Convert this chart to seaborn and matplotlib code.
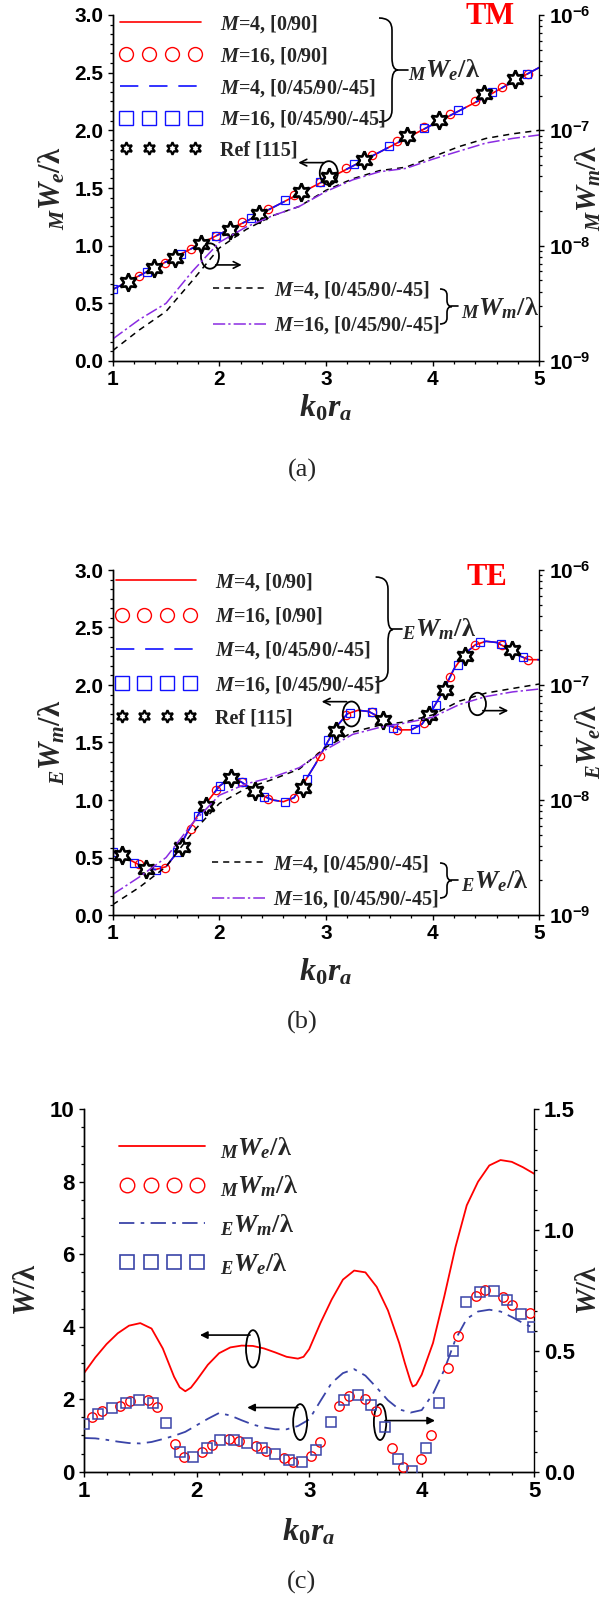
import numpy as np
import matplotlib
matplotlib.use("Agg")
import matplotlib.pyplot as plt
import seaborn as sns
from matplotlib.lines import Line2D
from matplotlib.patches import Ellipse, PathPatch
from matplotlib.path import Path
from matplotlib.ticker import AutoMinorLocator, FuncFormatter, NullFormatter, MultipleLocator, FormatStrFormatter
from matplotlib.legend_handler import HandlerLine2D

# ---------------- data: panel (a) TM ----------------
tm_x_line = [1.0, 1.25, 1.5, 1.75, 2.0, 2.25, 2.5, 2.75, 3.0, 3.25, 3.5, 3.75, 4.0, 4.25, 4.5, 4.75, 5.0]
tm_we_m4_090 = [0.62, 0.74, 0.86, 0.98, 1.10, 1.21, 1.33, 1.45, 1.57, 1.69, 1.81, 1.93, 2.05, 2.17, 2.29, 2.42, 2.545]
tm_we_m4_quasi = [0.62, 0.74, 0.86, 0.98, 1.10, 1.21, 1.33, 1.45, 1.57, 1.69, 1.81, 1.93, 2.05, 2.17, 2.29, 2.42, 2.545]
tm_m16_090_x = [1.243, 1.486, 1.73, 1.97, 2.215, 2.46, 2.70, 2.94, 3.19, 3.43, 3.67, 3.92, 4.16, 4.40, 4.65, 4.89]
tm_m16_090_y = [0.737, 0.853, 0.97, 1.086, 1.205, 1.32, 1.44, 1.555, 1.675, 1.79, 1.905, 2.025, 2.14, 2.255, 2.375, 2.49]
tm_m16_quasi_x = [1.0, 1.32, 1.645, 1.97, 2.295, 2.615, 2.94, 3.265, 3.59, 3.915, 4.24, 4.56, 4.885]
tm_m16_quasi_y = [0.62, 0.773, 0.93, 1.085, 1.24, 1.395, 1.555, 1.71, 1.865, 2.02, 2.175, 2.33, 2.485]
tm_ref_x = [1.144, 1.386, 1.585, 1.827, 2.098, 2.373, 2.77, 3.03, 3.356, 3.764, 4.06, 4.486, 4.776]
tm_ref_y = [0.689, 0.81, 0.897, 1.014, 1.138, 1.274, 1.466, 1.593, 1.746, 1.949, 2.088, 2.311, 2.447]
tm_wm_m4 = [1.23e-9, 1.86e-9, 2.69e-9, 5.01e-9, 9.55e-9, 1.38e-8, 1.82e-8, 2.19e-8, 3.02e-8,
            3.80e-8, 4.47e-8, 4.79e-8, 5.89e-8, 7.24e-8, 8.51e-8, 9.33e-8, 1.00e-7]
tm_wm_m16 = [1.55e-9, 2.29e-9, 3.16e-9, 6.03e-9, 1.07e-8, 1.45e-8, 1.82e-8, 2.19e-8, 2.95e-8,
             3.72e-8, 4.37e-8, 4.68e-8, 5.62e-8, 6.61e-8, 7.76e-8, 8.51e-8, 9.12e-8]

# ---------------- data: panel (b) TE ----------------
te_x_line = [1.0, 1.1, 1.2, 1.3, 1.4, 1.5, 1.6, 1.7, 1.8, 1.9, 2.0, 2.1, 2.2, 2.3, 2.4, 2.5, 2.6, 2.7, 2.8, 2.9,
             3.0, 3.1, 3.2, 3.3, 3.4, 3.5, 3.6, 3.7, 3.8, 3.9, 4.0, 4.1, 4.2, 4.3, 4.4, 4.5, 4.6, 4.7, 4.8, 4.9, 5.0]
te_wm_m4_090 = [0.55, 0.51, 0.46, 0.41, 0.395, 0.42, 0.54, 0.72, 0.87, 1.00, 1.12, 1.19, 1.16, 1.10, 1.04, 1.00,
                0.985, 1.02, 1.16, 1.31, 1.48, 1.64, 1.75, 1.78, 1.77, 1.72, 1.645, 1.61, 1.61, 1.66, 1.79,
                1.95, 2.14, 2.27, 2.35, 2.38, 2.37, 2.32, 2.26, 2.22, 2.22]
te_wm_m4_quasi = [0.55, 0.51, 0.46, 0.41, 0.395, 0.42, 0.54, 0.72, 0.87, 1.00, 1.12, 1.19, 1.16, 1.10, 1.04, 1.00,
                  0.985, 1.02, 1.16, 1.31, 1.48, 1.64, 1.75, 1.78, 1.77, 1.72, 1.645, 1.61, 1.61, 1.66, 1.79,
                  1.95, 2.14, 2.27, 2.35, 2.38, 2.37, 2.32, 2.26, 2.22, 2.22]
te_m16_090_x = [1.243, 1.486, 1.73, 1.97, 2.215, 2.46, 2.70, 2.94, 3.19, 3.43, 3.67, 3.92, 4.16, 4.40, 4.65, 4.89]
te_m16_090_y = [0.44, 0.41, 0.75, 1.09, 1.155, 1.01, 1.02, 1.38, 1.74, 1.765, 1.61, 1.67, 2.07, 2.35, 2.35, 2.22]
te_m16_quasi_x = [1.0, 1.2, 1.405, 1.6, 1.8, 2.005, 2.21, 2.415, 2.615, 2.82, 3.02, 3.225, 3.43, 3.63, 3.83,
                  4.035, 4.235, 4.44, 4.64, 4.845]
te_m16_quasi_y = [0.55, 0.45, 0.395, 0.545, 0.865, 1.125, 1.16, 1.03, 0.985, 1.18, 1.52, 1.76, 1.765, 1.625, 1.62,
                  1.83, 2.17, 2.37, 2.355, 2.24]
te_ref_x = [1.09, 1.314, 1.65, 1.874, 2.11, 2.333, 2.78, 3.09, 3.537, 3.97, 4.12, 4.30, 4.74]
te_ref_y = [0.52, 0.40, 0.594, 0.951, 1.19, 1.075, 1.10, 1.60, 1.694, 1.74, 1.96, 2.25, 2.30]
te_x_we = [1.0, 1.25, 1.5, 1.75, 2.0, 2.25, 2.5, 2.75, 3.0, 3.25, 3.5, 3.75, 4.0, 4.25, 4.5, 4.75, 5.0]
te_we_m4 = [1.23e-9, 1.74e-9, 2.63e-9, 5.25e-9, 9.33e-9, 1.26e-8, 1.51e-8, 1.86e-8, 2.88e-8,
            3.89e-8, 4.47e-8, 4.79e-8, 5.50e-8, 7.24e-8, 8.51e-8, 9.33e-8, 1.02e-7]
te_we_m16 = [1.51e-9, 2.14e-9, 3.16e-9, 6.31e-9, 1.10e-8, 1.38e-8, 1.58e-8, 1.91e-8, 2.75e-8,
             3.72e-8, 4.27e-8, 4.68e-8, 5.25e-8, 6.76e-8, 7.94e-8, 8.71e-8, 9.23e-8]

# ---------------- data: panel (c) ----------------
c_x_mwe = [1.0, 1.1, 1.2, 1.3, 1.4, 1.5, 1.6, 1.7, 1.8, 1.85, 1.9, 1.95, 2.0, 2.1, 2.2, 2.3, 2.4, 2.5, 2.6, 2.7,
           2.8, 2.9, 2.95, 3.0, 3.1, 3.2, 3.3, 3.4, 3.5, 3.6, 3.7, 3.8, 3.85, 3.9, 3.92, 3.95, 4.0, 4.1, 4.2,
           4.3, 4.4, 4.5, 4.6, 4.7, 4.8, 4.9, 5.0]
c_mwe = [2.72, 3.15, 3.52, 3.82, 4.03, 4.10, 3.95, 3.40, 2.62, 2.33, 2.22, 2.32, 2.52, 2.95, 3.27, 3.43, 3.48,
         3.47, 3.40, 3.29, 3.17, 3.12, 3.17, 3.38, 4.10, 4.75, 5.30, 5.55, 5.50, 5.10, 4.45, 3.55, 3.00, 2.50,
         2.35, 2.40, 2.68, 3.55, 4.83, 6.20, 7.35, 8.00, 8.45, 8.60, 8.55, 8.40, 8.22]
c_x_ewm = [1.0, 1.1, 1.2, 1.3, 1.4, 1.5, 1.6, 1.7, 1.8, 1.9, 2.0, 2.1, 2.2, 2.3, 2.4, 2.5, 2.6, 2.7, 2.8, 2.9,
           3.0, 3.1, 3.2, 3.3, 3.4, 3.5, 3.6, 3.7, 3.8, 3.9, 4.0, 4.1, 4.2, 4.3, 4.4, 4.5, 4.6, 4.7, 4.8, 4.9, 5.0]
c_ewm = [0.93, 0.92, 0.88, 0.83, 0.79, 0.78, 0.82, 0.90, 0.99, 1.10, 1.28, 1.46, 1.62, 1.55, 1.42, 1.30, 1.22,
         1.17, 1.17, 1.26, 1.44, 1.95, 2.45, 2.72, 2.83, 2.65, 2.32, 1.97, 1.72, 1.63, 1.70, 2.15, 2.81, 3.65,
         4.22, 4.42, 4.47, 4.42, 4.27, 4.10, 3.96]
c_mwm_x = [1.075, 1.16, 1.32, 1.41, 1.565, 1.65, 1.81, 1.89, 2.05, 2.136, 2.29, 2.375, 2.53, 2.615, 2.78, 2.86,
           3.02, 3.10, 3.265, 3.35, 3.50, 3.59, 3.74, 3.83, 3.99, 4.08, 4.23, 4.32, 4.48, 4.56, 4.72, 4.80, 4.96]
c_mwm_y = [0.226, 0.252, 0.273, 0.291, 0.298, 0.267, 0.116, 0.060, 0.083, 0.111, 0.135, 0.129, 0.107, 0.087,
           0.056, 0.042, 0.065, 0.124, 0.270, 0.312, 0.299, 0.252, 0.097, 0.018, 0.051, 0.152, 0.428, 0.562,
           0.727, 0.752, 0.724, 0.690, 0.655]
c_ewe_x = [1.0, 1.12, 1.25, 1.37, 1.49, 1.61, 1.73, 1.85, 1.97, 2.09, 2.21, 2.33, 2.45, 2.58, 2.70, 2.82, 2.94,
           3.06, 3.19, 3.31, 3.43, 3.55, 3.67, 3.79, 3.91, 4.035, 4.155, 4.275, 4.395, 4.52, 4.64, 4.76, 4.88, 4.99]
c_ewe_y = [0.198, 0.2385, 0.2625, 0.2835, 0.298, 0.2835, 0.201, 0.082, 0.060, 0.100, 0.132, 0.132, 0.118,
           0.0975, 0.0735, 0.048, 0.039, 0.090, 0.204, 0.298, 0.318, 0.2775, 0.185, 0.051, 0.004, 0.097, 0.283,
           0.500, 0.704, 0.744, 0.749, 0.711, 0.651, 0.597]

# ---------------- style ----------------
sns.set_style("ticks")
W, H = 604, 1601
plt.rcParams.update({
    "font.family": "Liberation Sans",
    "font.weight": "bold",
    "axes.edgecolor": "black",
    "axes.linewidth": 1.0,
    "xtick.color": "black",
    "ytick.color": "black",
    "xtick.direction": "out",
    "ytick.direction": "out",
    "xtick.major.size": 3.3,
    "ytick.major.size": 3.3,
    "xtick.minor.size": 2.2,
    "ytick.minor.size": 2.2,
    "xtick.major.width": 1.0,
    "ytick.major.width": 1.0,
    "xtick.minor.width": 0.9,
    "ytick.minor.width": 0.9,
    "mathtext.fontset": "custom",
    "mathtext.rm": "Liberation Serif:bold",
    "mathtext.it": "Liberation Serif:italic",
    "mathtext.bf": "Liberation Sans:bold",
    "mathtext.bfit": "Liberation Serif:italic:bold",
    "mathtext.sf": "Liberation Serif",
})

RED = "#ff0000"
BLUE = "#1010ff"
PURPLE = "#8a2be2"
CBLUE = "#3a44a8"

fig = plt.figure(figsize=(W / 100, H / 100), dpi=100)


def fx(px):
    return px / W


def fy(py):
    return 1 - py / H


def make_axes(left, right, top, bottom):
    return fig.add_axes([fx(left), fy(bottom), fx(right) - fx(left), fy(top) - fy(bottom)])


SERIF = "Liberation Serif"


def brace(x0, xm, x1, ytop, ybot, xstem, r, lw=1.2):
    ym = (ytop + ybot) / 2
    pts = [(x0, ytop), (xm, ytop), (xm, ytop + r), (xm, ym - r), (xm, ym), (x1, ym),
           (xm, ym), (xm, ym + r), (xm, ybot - r), (xm, ybot), (x0, ybot)]
    codes = [Path.MOVETO, Path.CURVE3, Path.CURVE3, Path.LINETO, Path.CURVE3, Path.CURVE3,
             Path.CURVE3, Path.CURVE3, Path.LINETO, Path.CURVE3, Path.CURVE3]
    verts = [(fx(a), fy(b)) for a, b in pts]
    fig.patches.append(PathPatch(Path(verts, codes), fc="none", ec="black", lw=lw,
                                 transform=fig.transFigure, figure=fig))
    fig.add_artist(Line2D([fx(x1), fx(xstem)], [fy(ym), fy(ym)], color="black", lw=lw,
                          transform=fig.transFigure))


def add_legend(handles, labels, px, py, size, hl, htp, ls, markers_idx):
    hmap = {}
    for i, h in enumerate(handles):
        hmap[h] = HandlerLine2D(numpoints=4 if i in markers_idx else 1)
    fig.legend(handles, labels, loc="upper left", bbox_to_anchor=(fx(px), fy(py)),
               bbox_transform=fig.transFigure, frameon=False, borderpad=0, borderaxespad=0,
               handlelength=hl, handletextpad=htp, labelspacing=ls, handler_map=hmap,
               prop=dict(family=SERIF, weight="bold", size=size))


def arrow(ax, x0, x1, y, style="->", lw=1.2, ms=12):
    ax.annotate("", xy=(x1, y), xytext=(x0, y),
                arrowprops=dict(arrowstyle=style, lw=lw, color="black", shrinkA=0, shrinkB=0,
                                mutation_scale=ms))


def log_fmt(v, p):
    return r"$\mathbf{10^{%d}}$" % int(round(np.log10(v)))


def style_top_panel(ax, ax2):
    ax.set_xlim(1, 5)
    ax.set_ylim(0, 3)
    ax.xaxis.set_major_locator(MultipleLocator(1))
    ax.xaxis.set_minor_locator(AutoMinorLocator(5))
    ax.yaxis.set_major_locator(MultipleLocator(0.5))
    ax.yaxis.set_minor_locator(AutoMinorLocator(6))
    ax.yaxis.set_major_formatter(FormatStrFormatter("%.1f"))
    ax.tick_params(labelsize=15)
    ax2.set_yscale("log")
    ax2.set_ylim(1e-9, 1e-6)
    ax2.yaxis.set_major_formatter(FuncFormatter(log_fmt))
    ax2.yaxis.set_minor_formatter(NullFormatter())
    ax2.tick_params(labelsize=15)
    for a in (ax, ax2):
        a.spines["top"].set_visible(False)
        a.set_xlabel("")
        a.set_ylabel("")
    ax.spines["right"].set_visible(False)


def line(ax, x, y, **kw):
    sns.lineplot(x=x, y=y, ax=ax, sort=False, estimator=None, **kw)


def marks(ax, x, y, marker, color, ms, mfc="none", mew=1.0, z=3):
    sns.lineplot(x=x, y=y, ax=ax, sort=False, estimator=None, linestyle="none", marker=marker,
                 markersize=ms, markerfacecolor=mfc, markeredgecolor=color, markeredgewidth=mew,
                 color=color, zorder=z)


STAR = (6, 1, 0)
DASH_BLUE = (0, (11, 6.5))
DASH_BLACK = (0, (4, 3.3))
DASHDOT_PURPLE = (0, (8, 2, 1.5, 2))
DASHDOT_C = (0, (8.5, 3.5, 2, 3.5))

# ======================= panel (a) =======================
axA = make_axes(112.7, 539.3, 15, 361)
axA2 = axA.twinx()
line(axA, tm_x_line, tm_we_m4_090, color=RED, lw=1.2)
line(axA, tm_x_line, tm_we_m4_quasi, color=BLUE, lw=1.2, linestyle=DASH_BLUE)
marks(axA, tm_m16_090_x, tm_m16_090_y, "o", RED, 6.0, mew=0.9)
marks(axA, tm_m16_quasi_x, tm_m16_quasi_y, "s", BLUE, 5.8, mew=0.9)
marks(axA, tm_ref_x, tm_ref_y, STAR, "black", 13, mfc="white", mew=1.9, z=5)
line(axA2, tm_x_line, tm_wm_m4, color="black", lw=1.1, linestyle=DASH_BLACK)
line(axA2, tm_x_line, tm_wm_m16, color=PURPLE, lw=1.1, linestyle=DASHDOT_PURPLE)
style_top_panel(axA, axA2)
axA.add_patch(Ellipse((3.026, 1.63), 0.169, 0.205, fc="none", ec="black", lw=1.3, zorder=6))
axA.add_patch(Ellipse((1.912, 0.91), 0.169, 0.22, fc="none", ec="black", lw=1.3, zorder=6))
arrow(axA, 2.98, 2.74, 1.72)
arrow(axA, 1.966, 2.21, 0.833)

# ======================= panel (b) =======================
axB = make_axes(112.7, 539.3, 570, 915)
axB2 = axB.twinx()
line(axB, te_x_line, te_wm_m4_090, color=RED, lw=1.2)
line(axB, te_x_line, te_wm_m4_quasi, color=BLUE, lw=1.2, linestyle=DASH_BLUE)
marks(axB, te_m16_090_x, te_m16_090_y, "o", RED, 6.0, mew=0.9)
marks(axB, te_m16_quasi_x, te_m16_quasi_y, "s", BLUE, 5.8, mew=0.9)
marks(axB, te_ref_x, te_ref_y, STAR, "black", 13, mfc="white", mew=1.9, z=5)
line(axB2, te_x_we, te_we_m4, color="black", lw=1.1, linestyle=DASH_BLACK)
line(axB2, te_x_we, te_we_m16, color=PURPLE, lw=1.1, linestyle=DASHDOT_PURPLE)
style_top_panel(axB, axB2)
axB.add_patch(Ellipse((3.239, 1.748), 0.163, 0.217, fc="none", ec="black", lw=1.3, zorder=6))
axB.add_patch(Ellipse((4.42, 1.835), 0.16, 0.195, fc="none", ec="black", lw=1.3, zorder=6))
arrow(axB, 3.194, 2.959, 1.855)
arrow(axB, 4.47, 4.71, 1.777)

# ======================= panel (c) =======================
axC = make_axes(84, 534.3, 1109.3, 1471.7)
axC2 = axC.twinx()
line(axC, c_x_mwe, c_mwe, color=RED, lw=1.3)
line(axC, c_x_ewm, c_ewm, color=CBLUE, lw=1.3, linestyle=DASHDOT_C)
marks(axC2, c_mwm_x, c_mwm_y, "o", RED, 6.8, mew=1.0)
marks(axC2, c_ewe_x, c_ewe_y, "s", CBLUE, 6.5, mew=1.1)
axC.set_xlim(1, 5)
axC.set_ylim(0, 10)
axC2.set_ylim(0, 1.5)
axC.xaxis.set_major_locator(MultipleLocator(1))
axC.xaxis.set_minor_locator(AutoMinorLocator(5))
axC.yaxis.set_major_locator(MultipleLocator(2))
axC.yaxis.set_minor_locator(AutoMinorLocator(4))
axC2.yaxis.set_major_locator(MultipleLocator(0.5))
axC2.yaxis.set_minor_locator(AutoMinorLocator(6))
axC2.yaxis.set_major_formatter(FormatStrFormatter("%.1f"))
axC.tick_params(labelsize=16)
axC2.tick_params(labelsize=16)
for a in (axC, axC2):
    a.spines["top"].set_visible(False)
    a.set_xlabel("")
    a.set_ylabel("")
axC.spines["right"].set_visible(False)
axC.add_patch(Ellipse((2.501, 3.39), 0.124, 1.03, fc="none", ec="black", lw=1.3, zorder=6))
axC.add_patch(Ellipse((2.92, 1.37), 0.124, 0.99, fc="none", ec="black", lw=1.3, zorder=6))
axC.add_patch(Ellipse((3.63, 1.37), 0.11, 0.99, fc="none", ec="black", lw=1.3, zorder=6))
arrow(axC, 2.475, 2.03, 3.77, style="-|>", ms=11)
arrow(axC, 2.90, 2.45, 1.77, style="-|>", ms=11)
arrow(axC, 3.674, 4.118, 1.41, style="-|>", ms=11)

# ======================= legends =======================
def proxy_line(color, ls, lw=1.2):
    return Line2D([], [], color=color, lw=lw, linestyle=ls)


def proxy_mark(marker, color, ms, mfc="none", mew=1.0):
    return Line2D([], [], linestyle="none", marker=marker, markersize=ms, markerfacecolor=mfc,
                  markeredgecolor=color, markeredgewidth=mew)


top_labels = [r"$\mathbfit{M}$=4, [0/90]", r"$\mathbfit{M}$=16, [0/90]",
              r"$\mathbfit{M}$=4, [0/45/90/-45]", r"$\mathbfit{M}$=16, [0/45/90/-45]", "Ref [115]"]
low_labels = [r"$\mathbfit{M}$=4, [0/45/90/-45]", r"$\mathbfit{M}$=16, [0/45/90/-45]"]

for (lx, ly, lsp, llx, lly) in [(120, 13, 0.50, 212.6, 279), (115.6, 571, 0.62, 212, 853)]:
    hs = [proxy_line(RED, "-"), proxy_mark("o", RED, 10), proxy_line(BLUE, DASH_BLUE),
          proxy_mark("s", BLUE, 10), proxy_mark(STAR, "black", 9, mfc="white", mew=1.6)]
    add_legend(hs, top_labels, lx, ly, 14.5, 4.0, 0.95, lsp, {1, 3, 4})
    hs2 = [proxy_line("black", DASH_BLACK, 1.1), proxy_line(PURPLE, DASHDOT_PURPLE, 1.1)]
    add_legend(hs2, low_labels, llx, lly, 14.5, 2.65, 0.4, 0.68, set())

hc = [proxy_line(RED, "-", 1.3), proxy_mark("o", RED, 10.5), proxy_line(CBLUE, DASHDOT_C, 1.3),
      proxy_mark("s", CBLUE, 10.5, mew=1.2)]
c_labels = [r"${}_{M}\mathbfit{W}_{\mathbfit{e}}\mathsf{/λ}$", r"${}_{M}\mathbfit{W}_{\mathbfit{m}}\mathsf{/λ}$",
            r"${}_{E}\mathbfit{W}_{\mathbfit{m}}\mathsf{/λ}$", r"${}_{E}\mathbfit{W}_{\mathbfit{e}}\mathsf{/λ}$"]
add_legend(hc, c_labels, 119.4, 1135, 19, 3.25, 0.55, 0.5, {1, 3})

# braces and group labels
brace(379, 392, 398, 18, 122, 408, 12)
fig.text(fx(408), fy(70), r"${}_{M}\mathbfit{W}_{\mathbfit{e}}\mathrm{/λ}$", fontsize=19, ha="left", va="center")
brace(440, 447, 452, 289, 324, 458, 6)
fig.text(fx(461), fy(308), r"${}_{M}\mathbfit{W}_{\mathbfit{m}}\mathrm{/λ}$", fontsize=19, ha="left", va="center")
brace(375.6, 388, 393, 577, 682, 402, 12)
fig.text(fx(402.5), fy(629), r"${}_{E}\mathbfit{W}_{\mathbfit{m}}\mathrm{/λ}$", fontsize=19, ha="left", va="center")
brace(440, 447, 452, 863, 898, 458, 6)
fig.text(fx(461), fy(881), r"${}_{E}\mathbfit{W}_{\mathbfit{e}}\mathrm{/λ}$", fontsize=19, ha="left", va="center")

# panel titles
fig.text(fx(490), fy(16), "TM", color=RED, family=SERIF, weight="bold", fontsize=22, ha="center", va="center")
fig.text(fx(487), fy(577), "TE", color=RED, family=SERIF, weight="bold", fontsize=22, ha="center", va="center")

# axis labels
xlab = r"$\mathbfit{k}_{\mathrm{0}}\mathbfit{r}_{\mathbfit{a}}$"
fig.text(fx(326), fy(408), xlab, fontsize=23, ha="center", va="center")
fig.text(fx(326), fy(972), xlab, fontsize=23, ha="center", va="center")
fig.text(fx(309), fy(1532), xlab, fontsize=23, ha="center", va="center")

fig.text(fx(52), fy(188), r"${}_{M}\mathbfit{W}_{\mathbfit{e}}\mathrm{/λ}$", fontsize=22, rotation=90, ha="center", va="center")
fig.text(fx(588), fy(188), r"${}_{M}\mathbfit{W}_{\mathbfit{m}}\mathrm{/λ}$", fontsize=21, rotation=90, ha="center", va="center")
fig.text(fx(52), fy(742), r"${}_{E}\mathbfit{W}_{\mathbfit{m}}\mathrm{/λ}$", fontsize=22, rotation=90, ha="center", va="center")
fig.text(fx(588), fy(742), r"${}_{E}\mathbfit{W}_{\mathbfit{e}}\mathrm{/λ}$", fontsize=21, rotation=90, ha="center", va="center")
fig.text(fx(27), fy(1290), r"$\mathbfit{W}\mathsf{/λ}$", fontsize=22, rotation=90, ha="center", va="center")
fig.text(fx(588), fy(1290), r"$\mathbfit{W}\mathsf{/λ}$", fontsize=21, rotation=90, ha="center", va="center")

# captions
for cap, cy in [("(a)", 470), ("(b)", 1022), ("(c)", 1582)]:
    fig.text(fx(302), fy(cy), cap, family=SERIF, weight="normal", fontsize=19, ha="center", va="center")

fig.savefig("out.png", dpi=100)
